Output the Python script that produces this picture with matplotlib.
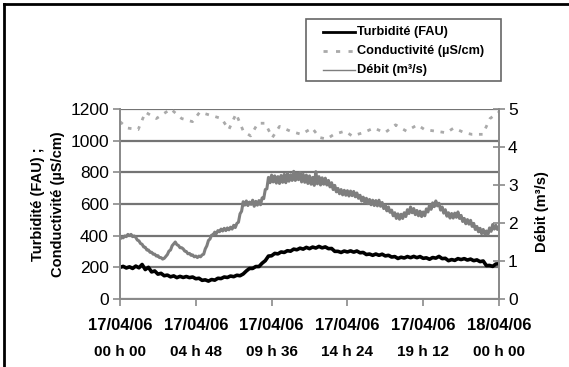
import matplotlib
matplotlib.use("Agg")
import matplotlib.pyplot as plt
from matplotlib.lines import Line2D
from matplotlib.patches import Rectangle
from matplotlib import font_manager

plt.rcParams['font.family'] = ['Liberation Sans', 'DejaVu Sans']

# turbidité : relevés toutes les 12 minutes, du 17/04/06 00h00 au 18/04/06 00h00
heures_turb = [i * 0.2 for i in range(121)]
turbidite = [
    200, 206, 196, 203, 193, 208, 197, 218, 186, 200,
    171, 177, 157, 162, 147, 151, 140, 146, 135, 143,
    136, 142, 135, 139, 128, 131, 118, 121, 113, 123,
    119, 131, 129, 139, 136, 145, 141, 150, 147, 158,
    177, 193, 193, 205, 205, 226, 242, 271, 273, 288,
    285, 297, 294, 305, 302, 315, 311, 321, 315, 326,
    318, 328, 322, 332, 323, 329, 318, 319, 301, 301,
    294, 303, 297, 304, 296, 303, 292, 294, 281, 284,
    276, 284, 276, 283, 272, 276, 265, 268, 256, 264,
    259, 268, 261, 269, 261, 268, 257, 260, 251, 262,
    258, 269, 255, 257, 242, 249, 244, 255, 249, 255,
    246, 252, 242, 247, 236, 240, 211, 212, 206, 221,
    222,
]

# débit : relevés toutes les 6 minutes
heures_debit = [i * 0.1 for i in range(241)]
debit = [
    1.58, 1.62, 1.61, 1.66, 1.64, 1.70, 1.67, 1.70, 1.64, 1.66,
    1.62, 1.55, 1.53, 1.46, 1.44, 1.37, 1.36, 1.29, 1.29, 1.23,
    1.23, 1.18, 1.18, 1.13, 1.14, 1.09, 1.09, 1.05, 1.07, 1.12,
    1.17, 1.26, 1.29, 1.40, 1.45, 1.50, 1.43, 1.41, 1.35, 1.35,
    1.32, 1.26, 1.25, 1.19, 1.20, 1.15, 1.16, 1.11, 1.13, 1.09,
    1.13, 1.11, 1.16, 1.18, 1.32, 1.40, 1.54, 1.58, 1.68, 1.69,
    1.76, 1.72, 1.80, 1.77, 1.84, 1.79, 1.86, 1.80, 1.87, 1.82,
    1.89, 1.84, 1.94, 1.88, 1.99, 2.02, 2.24, 2.31, 2.56, 2.47,
    2.58, 2.46, 2.55, 2.49, 2.60, 2.44, 2.57, 2.47, 2.59, 2.48,
    2.66, 2.64, 2.88, 2.90, 3.20, 3.06, 3.26, 3.08, 3.24, 3.05,
    3.22, 3.04, 3.25, 3.07, 3.28, 3.06, 3.30, 3.10, 3.27, 3.12,
    3.36, 3.12, 3.30, 3.14, 3.33, 3.08, 3.28, 3.07, 3.26, 3.04,
    3.24, 3.02, 3.20, 2.99, 3.35, 3.03, 3.22, 3.00, 3.19, 3.02,
    3.18, 3.00, 3.12, 2.95, 3.06, 2.88, 2.99, 2.82, 2.91, 2.77,
    2.88, 2.74, 2.86, 2.73, 2.85, 2.71, 2.84, 2.72, 2.83, 2.69,
    2.79, 2.65, 2.73, 2.58, 2.68, 2.54, 2.65, 2.51, 2.62, 2.48,
    2.60, 2.46, 2.59, 2.45, 2.60, 2.44, 2.54, 2.38, 2.47, 2.32,
    2.42, 2.28, 2.34, 2.19, 2.27, 2.12, 2.24, 2.10, 2.23, 2.12,
    2.27, 2.17, 2.35, 2.25, 2.42, 2.27, 2.38, 2.22, 2.33, 2.19,
    2.31, 2.17, 2.29, 2.19, 2.37, 2.29, 2.47, 2.36, 2.53, 2.43,
    2.58, 2.45, 2.52, 2.34, 2.42, 2.26, 2.35, 2.18, 2.27, 2.13,
    2.25, 2.13, 2.26, 2.15, 2.29, 2.12, 2.20, 2.04, 2.12, 1.98,
    2.09, 1.97, 2.07, 1.91, 1.99, 1.83, 1.91, 1.77, 1.86, 1.72,
    1.83, 1.71, 1.79, 1.70, 1.87, 1.78, 1.96, 1.84, 1.94, 1.83,
    1.90,
]

cond_heures = [0.0, 0.46, 1.15, 1.61, 2.30, 3.22, 3.90, 4.59, 5.05, 5.74,
               6.43, 6.89, 7.35, 7.81, 8.27, 8.73, 9.19, 9.65, 10.10, 10.79,
               11.48, 12.17, 12.63, 13.09, 13.55, 14.24, 14.70, 15.39, 16.08, 16.77,
               17.45, 18.14, 18.83, 19.29, 19.98, 20.67, 21.13, 21.82, 22.28, 22.97,
               23.43, 24.0]
conductivite = [1120, 1080, 1070, 1180, 1140, 1200, 1140, 1120, 1180, 1160,
                1140, 1070, 1170, 1060, 1030, 1110, 1110, 1020, 1090, 1060,
                1040, 1080, 1020, 1010, 1040, 1060, 1030, 1050, 1080, 1050,
                1100, 1060, 1100, 1070, 1060, 1050, 1080, 1050, 1040, 1040,
                1140, 1180]

pos_ticks = [0, 4.8, 9.6, 14.4, 19.2, 24]
dates = ['17/04/06', '17/04/06', '17/04/06', '17/04/06', '17/04/06', '18/04/06']
heures_lbl = ['00 h 00', '04 h 48', '09 h 36', '14 h 24', '19 h 12', '00 h 00']
noms = ['Turbidité (FAU)', 'Conductivité (µS/cm)', 'Débit (m³/s)']

W, H = 569, 367
fig = plt.figure(figsize=(W / 100, H / 100), dpi=100)


def fx(px):
    return px / W


def fy(py):
    return 1 - py / H


# cadre noir autour du graphique
fig.add_artist(Line2D([fx(4), fx(4)], [0, fy(4)], color='black', lw=2))
fig.add_artist(Line2D([fx(4), 1], [fy(4), fy(4)], color='black', lw=2))

ax = fig.add_axes([fx(120), 68 / H, 379 / W, 190 / H])
ax2 = ax.twinx()

gris_axe = '#8a8a8a'
c_cond = '#aaaaaa'
c_debit = '#7e7e7e'

ax.plot(cond_heures, conductivite, color=c_cond, lw=2.0, ls=(0, (1.3, 2.4)),
        dash_capstyle='butt')
ax.plot(heures_turb, turbidite, color='black', lw=2.6)
ax2.plot(heures_debit, debit, color=c_debit, lw=2.2)

ax.set_xlim(0, 24)
ax.set_ylim(0, 1200)
ax2.set_ylim(0, 5)
ax.set_yticks(range(0, 1201, 200))
ax2.set_yticks(range(0, 6))
ax.set_xticks(pos_ticks)
ax.set_xticklabels([])
ax.yaxis.grid(True, color='#747474', lw=1.6)
ax.set_axisbelow(True)

for a in (ax, ax2):
    a.spines['top'].set_visible(False)
    for s in ('left', 'right', 'bottom'):
        a.spines[s].set_color(gris_axe)
        a.spines[s].set_linewidth(1.3)

ax.tick_params(axis='y', direction='out', length=5, width=1.2, color=gris_axe,
               labelsize=12.5, pad=3)
ax.tick_params(axis='x', direction='out', length=5, width=1.2, color=gris_axe)
ax2.tick_params(axis='y', direction='inout', length=9, width=1.2, color=gris_axe,
                labelsize=12.5, pad=2)

# police étroite pour les heures si elle est installée
installees = {f.name for f in font_manager.fontManager.ttflist}
if 'Liberation Sans Narrow' in installees:
    police_h, taille_h = 'Liberation Sans Narrow', 13
else:
    police_h, taille_h = 'Liberation Sans', 11

# étiquettes de l'axe des temps sur deux lignes
for x, d, h in zip(pos_ticks, dates, heures_lbl):
    xf = fx(120 + x / 24 * 379)
    fig.text(xf, fy(325), d, ha='center', va='center', fontsize=12,
             fontweight='bold')
    fig.text(xf, fy(352), h, ha='center', va='center', fontsize=taille_h,
             fontweight='bold', family=[police_h, 'DejaVu Sans'])

fig.text(fx(38), fy(204), 'Turbidité (FAU) ;', rotation=90, ha='center',
         va='center', fontsize=10.5, fontweight='bold')
fig.text(fx(58), fy(204), 'Conductivité (µS/cm)', rotation=90, ha='center',
         va='center', fontsize=10.5, fontweight='bold')
fig.text(fx(542), fy(212), 'Débit (m³/s)', rotation=90, ha='center',
         va='center', fontsize=10.5, fontweight='bold')

# légende dessinée à la main dans son cadre
fig.add_artist(Rectangle((fx(306), fy(81)), 195 / W, 62 / H, transform=fig.transFigure,
                         facecolor='white', edgecolor='#666666', lw=1.2))
styles = [
    dict(color='black', lw=2),
    dict(color=c_cond, lw=2, ls=(0, (1.5, 3))),
    dict(color=c_debit, lw=1),
]
for i, (nom, st) in enumerate(zip(noms, styles)):
    yy = fy(32 + 19 * i)
    fig.add_artist(Line2D([fx(323), fx(355)], [yy, yy], **st))
    fig.text(fx(357), yy, nom, ha='left', va='center', fontsize=9.2,
             fontweight='bold')

fig.savefig('out.png', dpi=100)
